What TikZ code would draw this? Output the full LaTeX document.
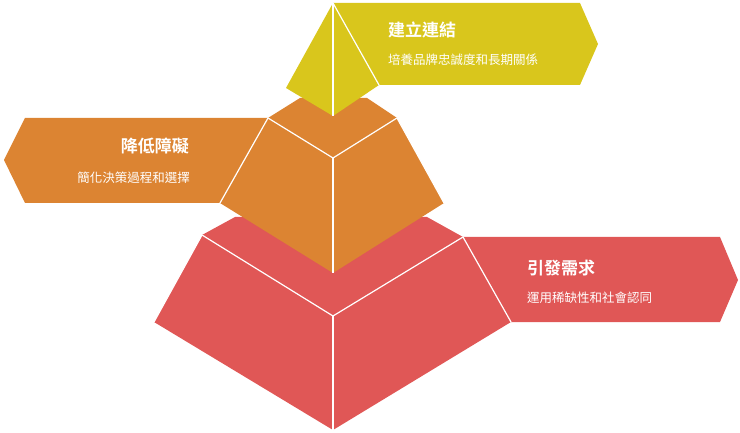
\documentclass[tikz,border=0pt]{standalone}
\usepackage{fontspec}
\newfontfamily\cjk{Noto Sans CJK TC}
\newfontfamily\cjkb{Noto Sans CJK TC Bold}
\definecolor{cy}{HTML}{D9C61C}
\definecolor{co}{HTML}{DC8432}
\definecolor{cr}{HTML}{E05756}
\begin{document}
\begin{tikzpicture}[x=1pt,y=-1pt,
  face/.style={line width=1.2pt,draw=white,line join=round},
  edge/.style={white,line width=1.2pt},
  ttl/.style={text=white,font=\cjkb\fontsize{17}{20}\selectfont,inner sep=0},
  sub/.style={text=white,font=\cjk\fontsize{12.5}{15}\selectfont,inner sep=0}]
\useasboundingbox (0,0) rectangle (740,433);
% banners
\fill[cr] (463,237) -- (720,237) -- (738,280) -- (720,322) -- (511,322) -- cycle;
\fill[co] (268,118) -- (25,118) -- (4,160) -- (25,203) -- (220,203) -- cycle;
\fill[cy] (333,3) -- (580,3) -- (598,44) -- (580,85) -- (379,85) -- cycle;
% red layer
\fill[cr] (202,235) -- (235,217) -- (427,217) -- (463,237) -- (511,322) -- (333,430) -- (154,322) -- cycle;
\draw[edge] (202,235) -- (333,316) -- (463,237);
\draw[edge] (333,316) -- (333,430);
\draw[edge] (202,235) -- (154,322);
\draw[edge] (463,237) -- (511,322);
% orange layer
\fill[co] (268,118) -- (300,98) -- (367,98) -- (397,118) -- (444,203) -- (333,273) -- (220,203) -- cycle;
\draw[edge] (268,118) -- (333,158) -- (397,118);
\draw[edge] (333,158) -- (333,273);
\draw[edge] (268,118) -- (220,203);
\draw[edge] (397,118) -- (444,203);
% yellow
\fill[cy] (333,3) -- (379,85) -- (333,116) -- (286,88) -- cycle;
\draw[edge] (333,3) -- (333,116);
\draw[edge] (333,3) -- (379,85);
% texts
\node[ttl,anchor=west] (t1) at (388,30) {建立連結};
\node[sub,anchor=west] (s1) at (388,60) {培養品牌忠誠度和長期關係};
\node[ttl,anchor=east] (t2) at (189,146) {降低障礙};
\node[sub,anchor=east] (s2) at (190,178) {簡化決策過程和選擇};
\node[ttl,anchor=west] (t3) at (527,268) {引發需求};
\node[sub,anchor=west] (s3) at (527,298) {運用稀缺性和社會認同};
\end{tikzpicture}
\end{document}
